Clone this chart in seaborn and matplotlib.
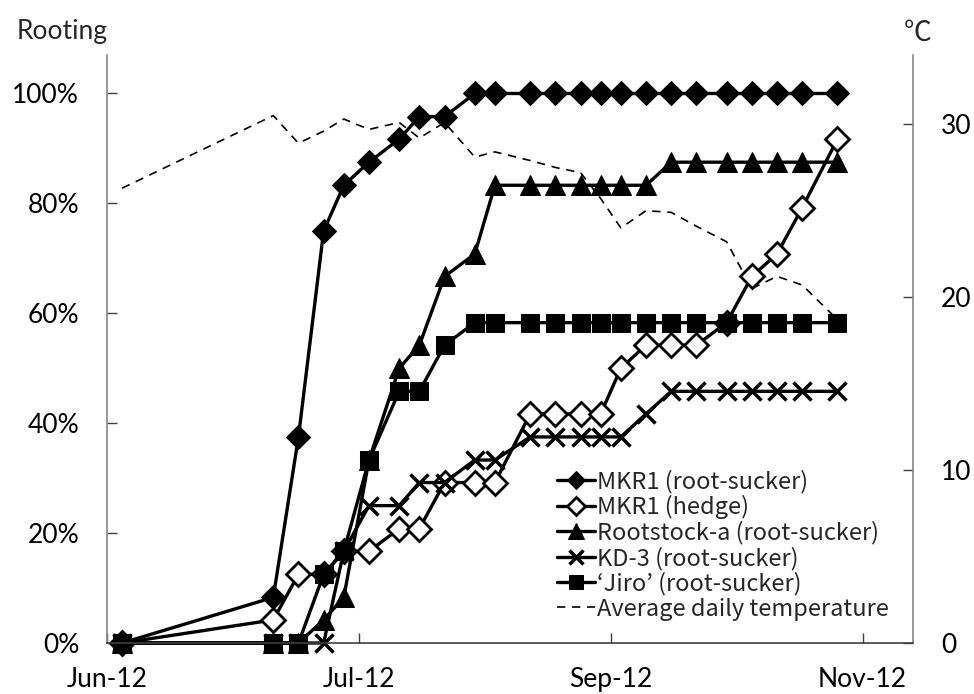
import matplotlib
matplotlib.use('Agg')
import matplotlib.pyplot as plt
import matplotlib.dates as mdates
import seaborn as sns
import pandas as pd
import numpy as np

# sampling dates (2012)
dates = pd.to_datetime(['2012-06-11', '2012-07-11', '2012-07-16', '2012-07-21', '2012-07-25',
                        '2012-07-30', '2012-08-05', '2012-08-09', '2012-08-14', '2012-08-20',
                        '2012-08-24', '2012-08-31', '2012-09-05', '2012-09-10', '2012-09-14',
                        '2012-09-18', '2012-09-23', '2012-09-28', '2012-10-03', '2012-10-09',
                        '2012-10-14', '2012-10-19', '2012-10-24', '2012-10-31'])

# rooting (%)
mkr1_root = [0, 8.3, 37.5, 75, 83.3, 87.5, 91.7, 95.8, 95.8, 100, 100, 100,
             100, 100, 100, 100, 100, 100, 100, 100, 100, 100, 100, 100]
mkr1_hedge = [0, 4.2, 12.5, 12.5, 16.7, 16.7, 20.8, 20.8, 29.2, 29.2, 29.2, 41.7,
              41.7, 41.7, 41.7, 50, 54.2, 54.2, 54.2, 58.3, 66.7, 70.8, 79.2, 91.7]
rootstock_a = [0, 0, 0, 4.2, 8.3, 33.3, 50, 54.2, 66.7, 70.8, 83.3, 83.3,
               83.3, 83.3, 83.3, 83.3, 83.3, 87.5, 87.5, 87.5, 87.5, 87.5, 87.5, 87.5]
kd3 = [0, 0, 0, 0, 16.7, 25, 25, 29.2, 29.2, 33.3, 33.3, 37.5,
       37.5, 37.5, 37.5, 37.5, 41.7, 45.8, 45.8, 45.8, 45.8, 45.8, 45.8, 45.8]
jiro = [0, 0, 0, 12.5, 16.7, 33.3, 45.8, 45.8, 54.2, 58.3, 58.3, 58.3,
        58.3, 58.3, 58.3, 58.3, 58.3, 58.3, 58.3, 58.3, 58.3, 58.3, 58.3, 58.3]

# average daily temperature (deg C)
temperature = [26.3, 30.5, 28.9, 29.6, 30.3, 29.7, 30.1, 29.2, 30.1, 28.1, 28.4, 27.9,
               27.5, 27.2, 25.7, 24.0, 25.0, 24.9, 24.1, 23.2, 20.5, 21.2, 20.7, 18.7]

series_names = ['MKR1 (root-sucker)', 'MKR1 (hedge)', 'Rootstock-a (root-sucker)',
                'KD-3 (root-sucker)', '\u2018Jiro\u2019 (root-sucker)']
tick_dates = pd.to_datetime(['2012-06-08', '2012-07-28', '2012-09-16', '2012-11-05'])

sns.set_style('ticks')
plt.rcParams['font.family'] = ['Lato', 'DejaVu Sans']

fig = plt.figure(figsize=(9.74, 6.94), dpi=100)
ax = fig.add_axes([0.1099, 0.0735, 0.8275, 0.8472])
ax2 = ax.twinx()
ax.set_zorder(ax2.get_zorder() + 1)
ax.patch.set_visible(False)

styles = [
    dict(marker='D', markersize=12, markerfacecolor='black'),
    dict(marker='D', markersize=12, markerfacecolor='white', markeredgewidth=2),
    dict(marker='^', markersize=15, markerfacecolor='black'),
    dict(marker='x', markersize=13, markeredgewidth=2.5),
    dict(marker='s', markersize=13, markerfacecolor='black'),
]
for vals, name, st in zip([mkr1_root, mkr1_hedge, rootstock_a, kd3, jiro], series_names, styles):
    sns.lineplot(x=dates, y=np.array(vals) / 100, ax=ax, color='black', linewidth=2.4,
                 markeredgecolor='black', label=name, clip_on=False, **st)

sns.lineplot(x=dates, y=temperature, ax=ax2, color='black', linewidth=1.2,
             linestyle=(0, (5, 4)), label='Average daily temperature')
if ax2.get_legend():
    ax2.get_legend().remove()

ax.set_xlim(pd.Timestamp('2012-06-08'), pd.Timestamp('2012-11-15'))
ax.set_ylim(0, 1.07)
ax2.set_ylim(0, 34)
ax.set_xticks(tick_dates)
ax.xaxis.set_major_formatter(mdates.DateFormatter('%b-%y'))
ax.set_yticks([0, 0.2, 0.4, 0.6, 0.8, 1.0])
ax.set_yticklabels([f'{int(round(t * 100))}%' for t in ax.get_yticks()])
ax2.set_yticks([0, 10, 20, 30])
ax.set_xlabel('')
ax.set_ylabel('')
ax2.set_ylabel('')

for a in (ax, ax2):
    a.spines['top'].set_visible(False)
    for s in ('left', 'right'):
        a.spines[s].set_color('#868686')
        a.spines[s].set_linewidth(1.2)
    a.spines['bottom'].set_color('#404040')
    a.spines['bottom'].set_linewidth(1.2)
ax.spines['right'].set_visible(False)
ax2.spines['left'].set_visible(False)
ax2.spines['bottom'].set_visible(False)

ax.tick_params(axis='y', direction='in', length=7, width=1, colors='#404040',
               labelcolor='black', labelsize=19, pad=20)
ax.tick_params(axis='x', direction='in', length=7, width=1, colors='#404040',
               labelcolor='black', labelsize=19, pad=17)
ax2.tick_params(axis='y', direction='in', length=7, width=1, colors='#404040',
                labelcolor='black', labelsize=19, pad=20)

h1, l1 = ax.get_legend_handles_labels()
h2, l2 = ax2.get_legend_handles_labels()
leg = ax.legend(h1 + h2, l1 + l2, loc='lower right', bbox_to_anchor=(0.982, 0.022),
                frameon=False, handlelength=1.6, handletextpad=0.1, labelspacing=0.08,
                borderaxespad=0, prop={'family': ['Noto Sans CJK JP', 'DejaVu Sans'], 'size': 17},
                markerscale=0.75)

fig.text(0.017, 0.955, 'Rooting', fontsize=19, ha='left', va='center')
fig.text(0.942, 0.953, '\u2103', fontsize=20, ha='center', va='center',
         family=['Noto Sans CJK JP', 'DejaVu Sans'])

fig.savefig('out.png', dpi=100)
